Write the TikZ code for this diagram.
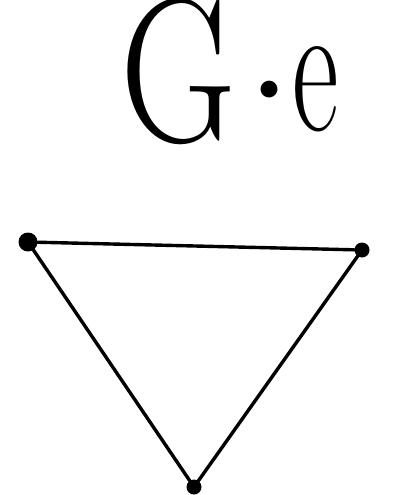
\documentclass[tikz,border=0pt]{standalone}
\usepackage{fontspec}
\usepackage{tikz}
\usetikzlibrary{positioning}

\begin{document}
\begin{tikzpicture}[
   x=1pt,y=-1pt,
   vertex/.style={circle,fill=black,inner sep=0pt,minimum size=15pt},
   edge/.style={line width=3.4pt,line cap=round},
   title/.style={inner sep=0pt,anchor=base west},
]
\useasboundingbox (0,0) rectangle (397,495);
\node[title] (label) at (120,141)
   {\scalebox{0.78}[1]{\fontsize{205}{205}\selectfont G}\kern6pt%
    \raisebox{32pt}{\fontsize{75}{75}\selectfont •}\kern-4pt%
    \raisebox{11pt}{\scalebox{0.6}[1]{\fontsize{190}{190}\selectfont e}}};

\node[vertex,minimum size=19pt] (a) at (28,242) {};
\node[vertex] (b) at (362,250) {};
\node[vertex] (c) at (194,487) {};

\draw[edge] (a) -- (b);
\draw[edge] (b) -- (c);
\draw[edge] (c) -- (a);
\end{tikzpicture}
\end{document}
